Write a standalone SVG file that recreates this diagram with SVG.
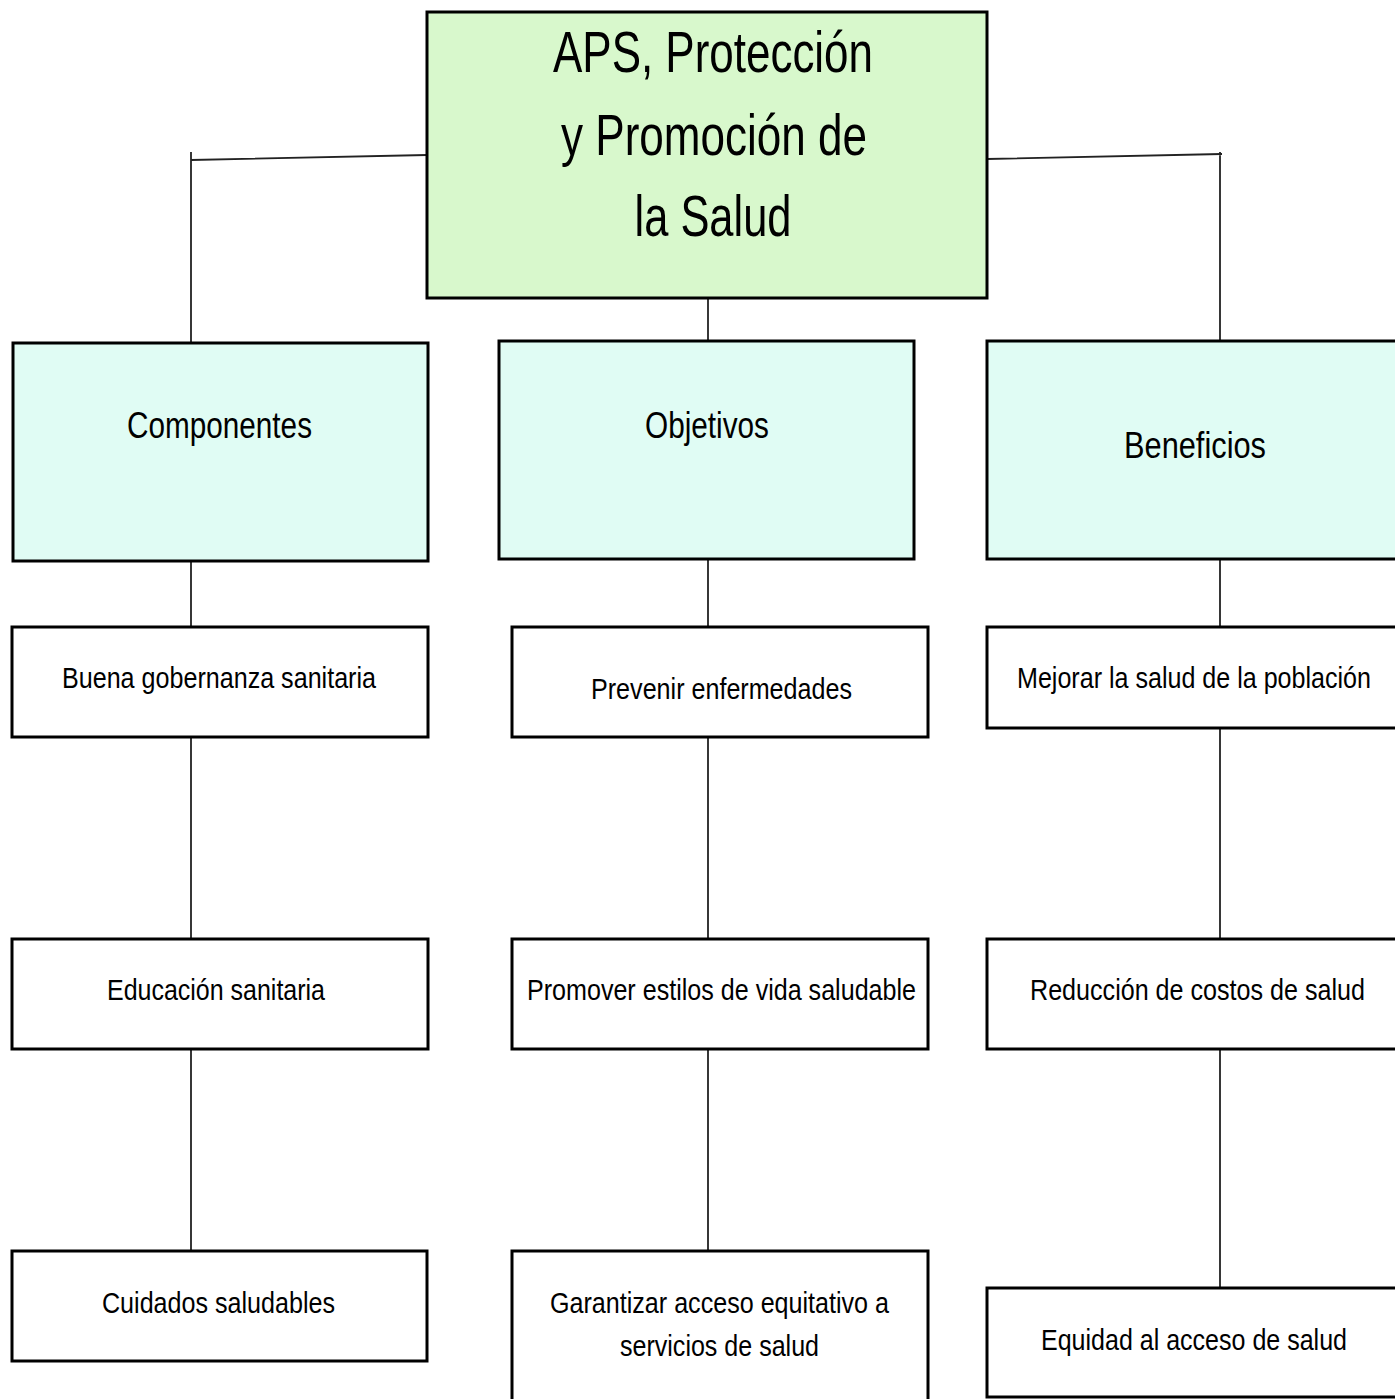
<svg xmlns="http://www.w3.org/2000/svg" width="1395" height="1399" viewBox="0 0 1395 1399">
<style>
.box{stroke:#000;stroke-width:3}
.root{fill:#d8f8cc}
.mid{fill:#e0fcf4}
.leaf{fill:#fff}
.c{stroke:#222;stroke-width:1.8;fill:none}
text{font-family:"Liberation Sans Narrow","Liberation Sans",Arial,sans-serif;fill:#000;text-anchor:middle}
.t1{font-size:58px}
.t2{font-size:36px}
.t3{font-size:30px}
.e{text-anchor:end}
</style>
<rect width="1395" height="1399" fill="#fff"/>
<g id="connectors">
<path class="c" d="M427 155 L191 160 M191 152 L191 342"/>
<path class="c" d="M987 159 L1222 154 M1220 152 L1220 340"/>
<path class="c" d="M708 298 L708 340"/>
<path class="c" d="M191 561 L191 627 M191 737 L191 939 M191 1049 L191 1251"/>
<path class="c" d="M708 559 L708 627 M708 737 L708 939 M708 1049 L708 1251"/>
<path class="c" d="M1220 559 L1220 627 M1220 728 L1220 939 M1220 1049 L1220 1288"/>
</g>
<g id="root">
<rect class="box root" x="427" y="12" width="560" height="286"/>
<text class="t1" x="713" y="72" textLength="320" lengthAdjust="spacingAndGlyphs">APS, Protección</text>
<text class="t1" x="714" y="155" textLength="306" lengthAdjust="spacingAndGlyphs">y Promoción de</text>
<text class="t1" x="713" y="236" textLength="157" lengthAdjust="spacingAndGlyphs">la Salud</text>
</g>
<g id="componentes">
<rect class="box mid" x="13" y="343" width="415" height="218"/>
<text class="t2" x="219.5" y="438" textLength="185" lengthAdjust="spacingAndGlyphs">Componentes</text>
</g>
<g id="objetivos">
<rect class="box mid" x="499" y="341" width="415" height="218"/>
<text class="t2" x="707" y="438" textLength="124" lengthAdjust="spacingAndGlyphs">Objetivos</text>
</g>
<g id="beneficios">
<rect class="box mid" x="987" y="341" width="420" height="218"/>
<text class="t2" x="1195" y="458" textLength="142" lengthAdjust="spacingAndGlyphs">Beneficios</text>
</g>
<g id="buena">
<rect class="box leaf" x="12" y="627" width="416" height="110"/>
<text class="t3" x="219" y="688" textLength="314" lengthAdjust="spacingAndGlyphs">Buena gobernanza sanitaria</text>
</g>
<g id="prevenir">
<rect class="box leaf" x="512" y="627" width="416" height="110"/>
<text class="t3" x="721.5" y="699" textLength="261" lengthAdjust="spacingAndGlyphs">Prevenir enfermedades</text>
</g>
<g id="mejorar">
<rect class="box leaf" x="987" y="627" width="420" height="101"/>
<text class="t3 e" x="1371" y="688" textLength="354" lengthAdjust="spacingAndGlyphs">Mejorar la salud de la población</text>
</g>
<g id="educacion">
<rect class="box leaf" x="12" y="939" width="416" height="110"/>
<text class="t3" x="216" y="1000" textLength="218" lengthAdjust="spacingAndGlyphs">Educación sanitaria</text>
</g>
<g id="promover">
<rect class="box leaf" x="512" y="939" width="416" height="110"/>
<text class="t3" x="721.5" y="1000" textLength="389" lengthAdjust="spacingAndGlyphs">Promover estilos de vida saludable</text>
</g>
<g id="reduccion">
<rect class="box leaf" x="987" y="939" width="420" height="110"/>
<text class="t3 e" x="1365" y="1000" textLength="335" lengthAdjust="spacingAndGlyphs">Reducción de costos de salud</text>
</g>
<g id="cuidados">
<rect class="box leaf" x="12" y="1251" width="415" height="110"/>
<text class="t3" x="218.5" y="1313" textLength="233" lengthAdjust="spacingAndGlyphs">Cuidados saludables</text>
</g>
<g id="garantizar">
<rect class="box leaf" x="512" y="1251" width="416" height="160"/>
<text class="t3" x="719.5" y="1313" textLength="339" lengthAdjust="spacingAndGlyphs">Garantizar acceso equitativo a</text>
<text class="t3" x="719.5" y="1356" textLength="199" lengthAdjust="spacingAndGlyphs">servicios de salud</text>
</g>
<g id="equidad">
<rect class="box leaf" x="987" y="1288" width="420" height="109"/>
<text class="t3 e" x="1347" y="1350" textLength="306" lengthAdjust="spacingAndGlyphs">Equidad al acceso de salud</text>
</g>
</svg>
